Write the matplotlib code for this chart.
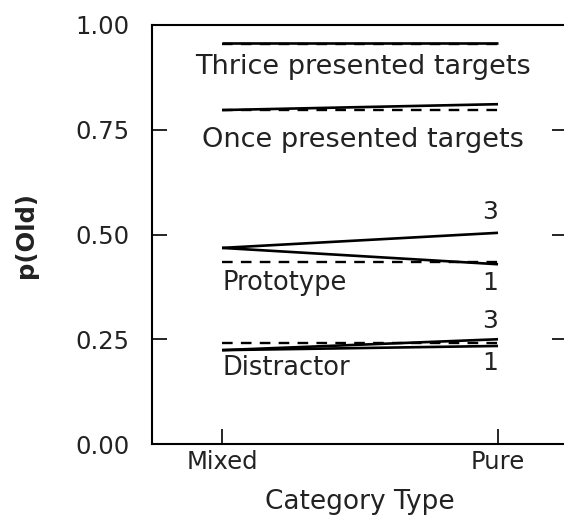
import numpy as np
import matplotlib.pyplot as plt

# category positions on the x axis
categories = ["Mixed", "Pure"]

# solid = observed-like curves, dashed = comparison curves
thrice_solid = [0.958, 0.958]
thrice_dashed = [0.954, 0.954]
once_solid = [0.797, 0.811]
once_dashed = [0.796, 0.796]
proto_3 = [0.468, 0.504]
proto_1 = [0.468, 0.429]
proto_dashed = [0.434, 0.434]
distr_3 = [0.224, 0.250]
distr_1 = [0.224, 0.234]
distr_dashed = [0.242, 0.242]

yticks = [0.0, 0.25, 0.50, 0.75, 1.00]
ytick_labels = ["0.00", "0.25", "0.50", "0.75", "1.00"]

plt.rcParams['font.family'] = ['DejaVu Sans']
txt = '#222222'

fig = plt.figure(figsize=(5.64, 5.18), dpi=100)
ax = fig.add_axes([152/564, 1 - 444/518, 415/564, 419/518])

x = np.arange(len(categories))
solid = dict(color='black', lw=1.9, solid_capstyle='butt')
dashed = dict(color='black', lw=1.7, linestyle=(0, (4.5, 3.5)))

for ys in [thrice_solid, once_solid, proto_3, proto_1, distr_3, distr_1]:
    ax.plot(x, ys, **solid)
for ys in [thrice_dashed, once_dashed, proto_dashed, distr_dashed]:
    ax.plot(x, ys, **dashed)

ax.set_xlim(-0.254, 1.25)
ax.set_ylim(0, 1.0)

ax.text(0.51, 0.884, "Thrice presented targets", ha='center', va='baseline',
        fontsize=19.5, color=txt)
ax.text(0.51, 0.709, "Once presented targets", ha='center', va='baseline',
        fontsize=19.5, color=txt)
ax.text(0.0, 0.367, "Prototype", ha='left', va='baseline', fontsize=18.5, color=txt)
ax.text(0.0, 0.164, "Distractor", ha='left', va='baseline', fontsize=18.5, color=txt)
ax.text(1.0, 0.538, "3", ha='right', va='baseline', fontsize=18, color=txt)
ax.text(1.0, 0.367, "1", ha='right', va='baseline', fontsize=18, color=txt)
ax.text(1.0, 0.276, "3", ha='right', va='baseline', fontsize=18, color=txt)
ax.text(1.0, 0.176, "1", ha='right', va='baseline', fontsize=18, color=txt)

ax.set_xticks(x)
ax.set_xticklabels(categories)
ax.set_yticks(yticks)
ax.set_yticklabels(ytick_labels)
ax.tick_params(axis='both', direction='in', length=11, width=1.2,
               labelsize=17.5, labelcolor=txt)
ax.tick_params(axis='y', right=True, pad=16)
ax.tick_params(axis='x', pad=4)

for s in ax.spines.values():
    s.set_linewidth(1.5)

ax.set_xlabel("Category Type", fontsize=19, color=txt, labelpad=11)
ax.set_ylabel("p(Old)", fontsize=17.5, color=txt, fontweight='bold', labelpad=27)

fig.savefig("out.png", dpi=100)
